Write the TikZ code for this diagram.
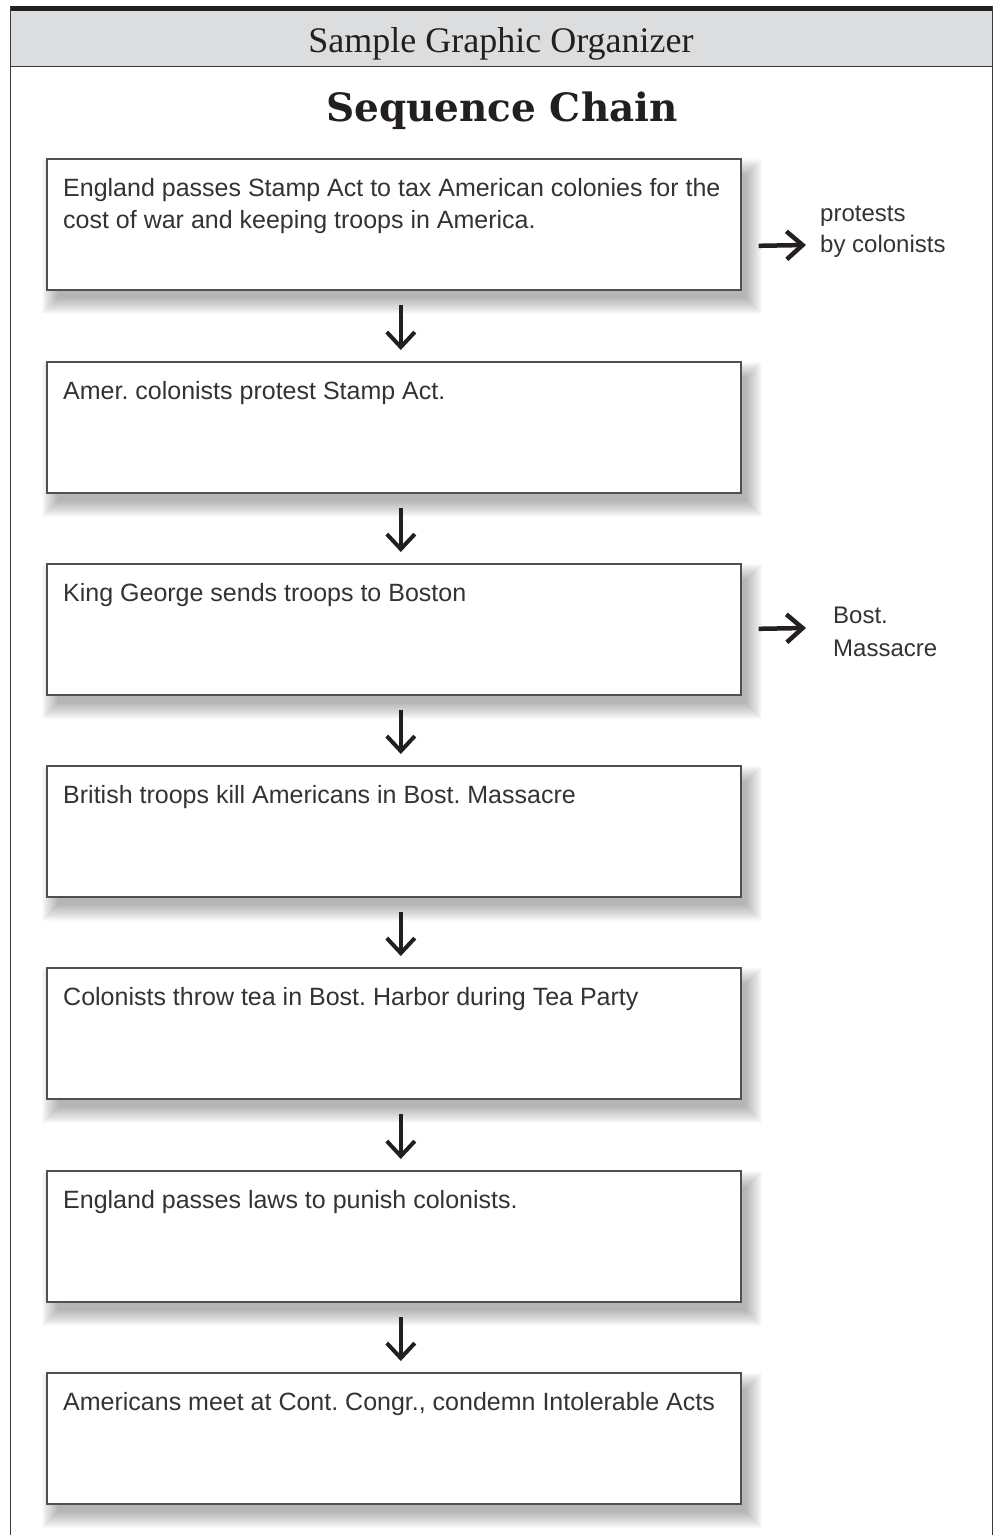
\documentclass[tikz,border=0pt]{standalone}
\usepackage{fontspec}
\setmainfont{Liberation Serif}
\newfontfamily\handfont{Liberation Sans}
\newfontfamily\titlefont{DejaVu Serif}
\usetikzlibrary{arrows.meta,calc,backgrounds}
\definecolor{ink}{HTML}{231F20}
\definecolor{hdr}{HTML}{DCDDDF}
\definecolor{boxline}{HTML}{505050}
\definecolor{txtc}{HTML}{333333}
\definecolor{frame}{HTML}{3A3A3A}
\newcommand\softshadow[1]{%
  \foreach \e in {-4,...,12}{%
    \fill[black,opacity=0.018] ($(#1.north west)+(8-\e,13-\e)$) rectangle ($(#1.south east)+(8+\e,11+\e)$);}}
\tikzset{
  stepbox/.style={draw=boxline, line width=1.6pt, fill=white, minimum width=694pt,
    minimum height=131pt, inner sep=0pt, anchor=north west},
  boxtext/.style={font=\handfont\fontsize{25}{32}\selectfont, text=txtc, inner sep=0pt,
    anchor=north west, align=left},
  sidetext/.style={font=\handfont\fontsize{24}{31}\selectfont, text=txtc, inner sep=0pt,
    anchor=north west, align=left},
  downarrow/.style={draw=ink, line width=4pt,
    -{Straight Barb[length=15pt,width=28pt,line width=4pt]}},
  sidearrow/.style={draw=ink, line width=4.5pt,
    -{Straight Barb[length=16pt,width=28pt,line width=4.5pt]}}
}
\begin{document}
\frenchspacing
\begin{tikzpicture}[x=1pt,y=-1pt]
\useasboundingbox (0,0) rectangle (996,1535);
% frame and header
\fill[hdr] (10,11) rectangle (993,66);
\fill[ink] (10,5.5) rectangle (993,11);
\draw[frame, line width=1.5pt] (10.5,6) -- (10.5,1535);
\draw[frame, line width=1.5pt] (992.3,6) -- (992.3,1535);
\draw[frame, line width=1.6pt] (10,66.5) -- (993,66.5);
\node[font=\fontsize{36}{40}\selectfont, text=ink, inner sep=0pt] (hdrtitle) at (501,44) {Sample Graphic Organizer};
\node[font=\titlefont\bfseries\fontsize{39}{40}\selectfont, text=ink, inner sep=0pt, anchor=base] (title) at (502,121) {Sequence Chain};
% boxes
\node[stepbox] (b1) at (46,158) {};
\node[stepbox] (b2) at (46,361) {};
\node[stepbox] (b3) at (46,563) {};
\node[stepbox] (b4) at (46,765) {};
\node[stepbox] (b5) at (46,967) {};
\node[stepbox] (b6) at (46,1170) {};
\node[stepbox] (b7) at (46,1372) {};
\begin{pgfonlayer}{background}
  \foreach \b in {b1,b2,b3,b4,b5,b6,b7}{\softshadow{\b}}
\end{pgfonlayer}
% texts
\node[boxtext] (t1) at ($(b1.north west)+(17,20)$) {England passes Stamp Act to tax American colonies for the\\cost of war and keeping troops in America.};
\node[boxtext] (t2) at ($(b2.north west)+(17,20)$) {Amer. colonists protest Stamp Act.};
\node[boxtext] (t3) at ($(b3.north west)+(17,20)$) {King George sends troops to Boston};
\node[boxtext] (t4) at ($(b4.north west)+(17,20)$) {British troops kill Americans in Bost. Massacre};
\node[boxtext] (t5) at ($(b5.north west)+(17,20)$) {Colonists throw tea in Bost. Harbor during Tea Party};
\node[boxtext] (t6) at ($(b6.north west)+(17,20)$) {England passes laws to punish colonists.};
\node[boxtext] (t7) at ($(b7.north west)+(17,20)$) {Americans meet at Cont. Congr., condemn Intolerable Acts};
% down arrows
\draw[downarrow] ([xshift=7pt,yshift=-14pt]b1.south) -- ([xshift=7pt,yshift=11pt]b2.north);
\draw[downarrow] ([xshift=7pt,yshift=-14pt]b2.south) -- ([xshift=7pt,yshift=11pt]b3.north);
\draw[downarrow] ([xshift=7pt,yshift=-14pt]b3.south) -- ([xshift=7pt,yshift=11pt]b4.north);
\draw[downarrow] ([xshift=7pt,yshift=-14pt]b4.south) -- ([xshift=7pt,yshift=11pt]b5.north);
\draw[downarrow] ([xshift=7pt,yshift=-14pt]b5.south) -- ([xshift=7pt,yshift=11pt]b6.north);
\draw[downarrow] ([xshift=7pt,yshift=-14pt]b6.south) -- ([xshift=7pt,yshift=11pt]b7.north);
% side notes
\node[sidetext] (n1) at (820,204) {\vphantom{b}protests\\by colonists};
\coordinate (e1) at (806,245);
\draw[sidearrow] ([xshift=17pt,yshift=-21.5pt]b1.east) -- (e1);
\node[sidetext, font=\handfont\fontsize{24}{33}\selectfont] (n3) at (833,607) {Bost.\\Massacre};
\coordinate (e3) at (806,628);
\draw[sidearrow] ([xshift=17pt,yshift=0.5pt]b3.east) -- (e3);
\end{tikzpicture}
\end{document}
